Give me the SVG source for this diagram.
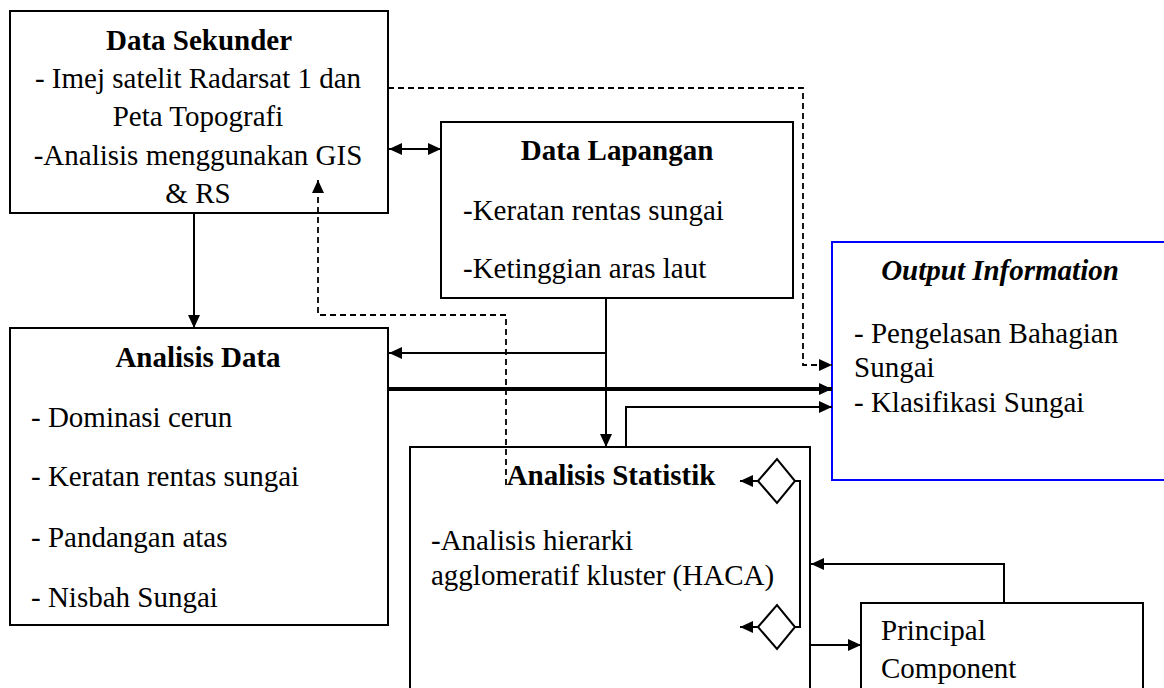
<svg xmlns="http://www.w3.org/2000/svg" width="1164" height="688" viewBox="0 0 1164 688">
  <style>
    text { font-family: "Liberation Serif", "Times New Roman", Tinos, serif; font-size: 29px; fill: #000; }
    .b { font-weight: bold; }
    .bi { font-weight: bold; font-style: italic; }
    .mid { text-anchor: middle; }
    .box { fill: #fff; stroke: #000; stroke-width: 2; }
  </style>
  <defs>
    <marker id="arr" markerUnits="userSpaceOnUse" markerWidth="14" markerHeight="14" refX="13" refY="6" orient="auto-start-reverse">
      <path d="M0,0 L13,6 L0,12 Z" fill="#000"/>
    </marker>
  </defs>

  <rect width="1164" height="688" fill="#fff"/>

  <g id="data-sekunder">
    <rect class="box" x="10" y="11" width="378" height="202"/>
    <text class="b mid" x="199" y="50">Data Sekunder</text>
    <text class="mid" x="198" y="88">- Imej satelit Radarsat 1 dan</text>
    <text class="mid" x="198" y="126">Peta Topografi</text>
    <text class="mid" x="198" y="165">-Analisis menggunakan GIS</text>
    <text class="mid" x="198" y="203">&amp; RS</text>
  </g>

  <g id="data-lapangan">
    <rect class="box" x="441" y="122" width="352" height="176"/>
    <text class="b mid" x="617" y="160">Data Lapangan</text>
    <text x="463" y="220">-Keratan rentas sungai</text>
    <text x="463" y="278">-Ketinggian aras laut</text>
  </g>

  <g id="output-information">
    <rect x="832" y="242" width="360" height="238" fill="#fff" stroke="#0000ff" stroke-width="2"/>
    <text class="bi mid" x="1000" y="280">Output Information</text>
    <text x="854" y="343">- Pengelasan Bahagian</text>
    <text x="854" y="377">Sungai</text>
    <text x="854" y="412">- Klasifikasi Sungai</text>
  </g>

  <g id="analisis-data">
    <rect class="box" x="10" y="328" width="378" height="297"/>
    <text class="b mid" x="198" y="367">Analisis Data</text>
    <text x="31" y="427">- Dominasi cerun</text>
    <text x="31" y="486">- Keratan rentas sungai</text>
    <text x="31" y="547">- Pandangan atas</text>
    <text x="31" y="607">- Nisbah Sungai</text>
  </g>

  <g id="analisis-statistik">
    <rect class="box" x="410" y="447" width="400" height="260"/>
    <text class="b mid" x="611" y="485">Analisis Statistik</text>
    <text x="431" y="550">-Analisis hierarki</text>
    <text x="431" y="585">agglomeratif kluster (HACA)</text>
    <polygon class="box" points="758,481 777,459 795,481 777,503" stroke-width="1.8"/>
    <polygon class="box" points="758,627 777,605 795,627 777,649" stroke-width="1.8"/>
  </g>

  <g id="principal-component">
    <rect class="box" x="861" y="603" width="282" height="110" stroke-width="1.6"/>
    <text x="881" y="640">Principal</text>
    <text x="881" y="678">Component</text>
  </g>

  <g id="connectors" fill="none" stroke="#000" stroke-width="2">
    <line x1="194" y1="213" x2="194" y2="328" marker-end="url(#arr)"/>
    <line x1="389" y1="149" x2="441" y2="149" marker-start="url(#arr)" marker-end="url(#arr)"/>
    <polyline points="388,88 803,88 803,365 832,365" stroke-width="1.8" stroke-dasharray="6 4" marker-end="url(#arr)"/>
    <line x1="606" y1="298" x2="606" y2="447" marker-end="url(#arr)"/>
    <line x1="606" y1="353" x2="389" y2="353" marker-end="url(#arr)"/>
    <line x1="388" y1="389" x2="832" y2="389" stroke-width="4" marker-end="url(#arr)"/>
    <polyline points="626,447 626,407 832,407" marker-end="url(#arr)"/>
    <polyline points="506,485 506,315 318,315 318,180" stroke-width="1.8" stroke-dasharray="6 4" marker-end="url(#arr)"/>
    <line x1="758" y1="481" x2="740" y2="481" marker-end="url(#arr)"/>
    <line x1="758" y1="627" x2="740" y2="627" marker-end="url(#arr)"/>
    <polyline points="795,481 800,481 800,627 795,627"/>
    <polyline points="1004,603 1004,564 811,564" marker-end="url(#arr)"/>
    <line x1="810" y1="645" x2="861" y2="645" marker-end="url(#arr)"/>
  </g>
</svg>
